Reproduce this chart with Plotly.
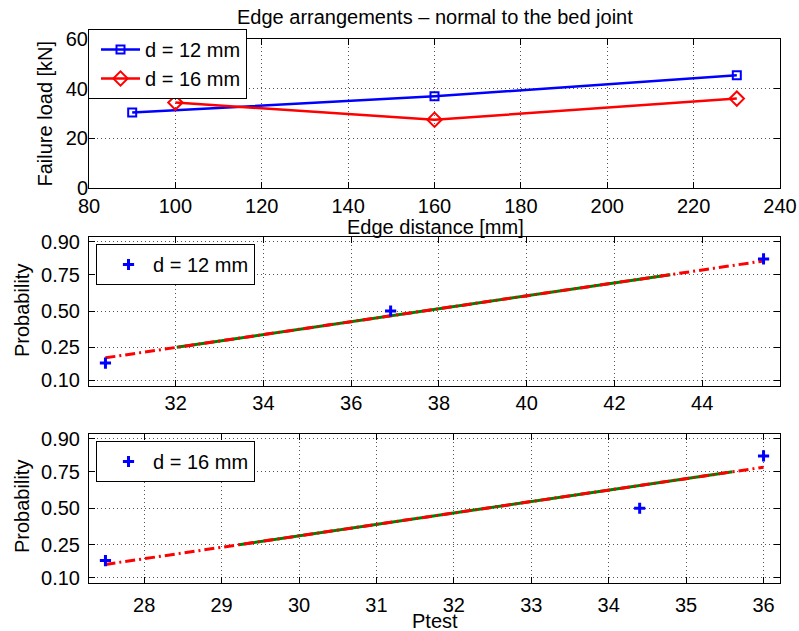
import plotly.graph_objects as go
from statistics import NormalDist

# ---------------- data ----------------
edge_12 = [90, 160, 230]
load_12 = [30.4, 36.9, 45.4]
edge_16 = [100, 160, 230]
load_16 = [34.4, 27.5, 36.0]

top_x_ticks = [80, 100, 120, 140, 160, 180, 200, 220, 240]
top_y_ticks = [0, 20, 40, 60]
prob_ticks = [0.10, 0.25, 0.50, 0.75, 0.90]
prob_labels = ["0.10", "0.25", "0.50", "0.75", "0.90"]
mid_x_ticks = [32, 34, 36, 38, 40, 42, 44]
bot_x_ticks = [28, 29, 30, 31, 32, 33, 34, 35, 36]

series_names = ["d = 12 mm", "d = 16 mm"]

nd = NormalDist()


def normplot_parts(values):
    """Normal probability plot pieces, as MATLAB's normplot builds them."""
    xs = sorted(values)
    n = len(xs)
    p = [(i + 0.5) / n for i in range(n)]
    z = [nd.inv_cdf(v) for v in p]

    def prct(q):
        if q <= p[0]:
            return xs[0]
        if q >= p[-1]:
            return xs[-1]
        for i in range(n - 1):
            if p[i] <= q <= p[i + 1]:
                t = (q - p[i]) / (p[i + 1] - p[i])
                return xs[i] + t * (xs[i + 1] - xs[i])

    q1, q3 = prct(0.25), prct(0.75)
    z1, z3 = nd.inv_cdf(0.25), nd.inv_cdf(0.75)
    slope = (z3 - z1) / (q3 - q1)
    ext_x = [xs[0], xs[-1]]
    ext_z = [z1 + slope * (v - q1) for v in ext_x]
    rng = xs[-1] - xs[0]
    xlim = [xs[0] - 0.025 * rng, xs[-1] + 0.025 * rng]
    ylim = [nd.inv_cdf(0.25 / n), nd.inv_cdf((n - 0.25) / n)]
    return dict(x=xs, z=z, qx=[q1, q3], qz=[z1, z3], ex=ext_x, ez=ext_z,
                xlim=xlim, ylim=ylim)


W, H = 799, 631
FONT = "Liberation Sans, Arial, Helvetica, sans-serif"
FS = 20
BLUE, RED, GREEN = "#0000FF", "#FF0000", "#008000"


def px_x(v):
    return v / W


def px_y(v):
    return 1 - v / H


fig = go.Figure()

# ---------------- top panel ----------------
fig.add_trace(go.Scatter(x=edge_12, y=load_12, mode="lines+markers", name=series_names[0],
                         line=dict(color=BLUE, width=2.5),
                         marker=dict(symbol="square-open", size=8, color=BLUE, line=dict(width=2)),
                         xaxis="x", yaxis="y", legend="legend"))
fig.add_trace(go.Scatter(x=edge_16, y=load_16, mode="lines+markers", name=series_names[1],
                         line=dict(color=RED, width=2.5),
                         marker=dict(symbol="diamond-open", size=11, color=RED, line=dict(width=2)),
                         xaxis="x", yaxis="y", legend="legend"))

# ---------------- probability panels ----------------
panels = [(load_12, "x2", "y2", "legend2", series_names[0]),
          (load_16, "x3", "y3", "legend3", series_names[1])]
parts = []
for vals, xa, ya, lg, nm in panels:
    d = normplot_parts(vals)
    parts.append(d)
    fig.add_trace(go.Scatter(x=d["qx"], y=d["qz"], mode="lines", showlegend=False,
                             line=dict(color=GREEN, width=3), xaxis=xa, yaxis=ya))
    fig.add_trace(go.Scatter(x=d["ex"], y=d["ez"], mode="lines", showlegend=False,
                             line=dict(color=RED, width=3, dash="10px,4px,2px,4px"),
                             xaxis=xa, yaxis=ya))
    fig.add_trace(go.Scatter(x=d["x"], y=d["z"], mode="markers", name=nm,
                             marker=dict(symbol="cross-thin-open", size=8, color=BLUE,
                                         line=dict(width=3, color=BLUE)),
                             xaxis=xa, yaxis=ya, legend=lg))

dom_x = [px_x(89), px_x(780)]
common = dict(showline=True, linecolor="black", linewidth=1, mirror="ticks",
              ticks="inside", ticklen=6, tickcolor="black", tickwidth=1,
              showgrid=True, gridcolor="#555555", gridwidth=1, griddash="1px,3px",
              zeroline=False, automargin=False,
              tickfont=dict(family=FONT, size=FS, color="black"))

prob_z = [nd.inv_cdf(p) for p in prob_ticks]

legend_common = dict(xanchor="left", yanchor="top", bgcolor="white", bordercolor="black",
                     borderwidth=1, font=dict(family=FONT, size=FS),
                     indentation=7, itemwidth=39, tracegroupgap=0)

fig.update_layout(
    width=W, height=H, margin=dict(l=0, r=0, t=0, b=0, autoexpand=False),
    paper_bgcolor="white", plot_bgcolor="white",
    font=dict(family=FONT, size=FS, color="black"),
    xaxis=dict(domain=dom_x, anchor="y", range=[80, 240], tickvals=top_x_ticks,
               ticklabelstandoff=0, **common),
    yaxis=dict(domain=[px_y(188), px_y(39)], anchor="x", range=[0, 60], tickvals=top_y_ticks,
               ticklabelstandoff=-4, **common),
    xaxis2=dict(domain=dom_x, anchor="y2", range=parts[0]["xlim"], tickvals=mid_x_ticks,
                ticklabelstandoff=-1, **common),
    yaxis2=dict(domain=[px_y(385.5), px_y(236.5)], anchor="x2", range=parts[0]["ylim"],
                tickvals=prob_z, ticktext=prob_labels, ticklabelstandoff=4, **common),
    xaxis3=dict(domain=dom_x, anchor="y3", range=parts[1]["xlim"], tickvals=bot_x_ticks,
                ticklabelstandoff=4, **common),
    yaxis3=dict(domain=[px_y(583), px_y(433.5)], anchor="x3", range=parts[1]["ylim"],
                tickvals=prob_z, ticktext=prob_labels, ticklabelstandoff=4, **common),
    legend=dict(x=px_x(88), y=px_y(29), **legend_common),
    legend2=dict(x=px_x(96), y=px_y(244), **legend_common),
    legend3=dict(x=px_x(96), y=px_y(441), **legend_common),
    showlegend=True,
)

ann = [
    ("Edge arrangements \u2013 normal to the bed joint", 435, 17, 0),
    ("Edge distance [mm]", 435, 227, 0),
    ("Failure load [kN]", 44, 113.5, -90),
    ("Probability", 22, 311, -90),
    ("Probability", 22, 507, -90),
    ("Ptest", 435, 621, 0),
]
for text, ax_, ay_, rot in ann:
    fig.add_annotation(text=text, x=px_x(ax_), y=px_y(ay_), xref="paper", yref="paper",
                       xanchor="center", yanchor="middle", showarrow=False, textangle=rot,
                       font=dict(family=FONT, size=FS, color="black"))

# remove the browser's default 8px page margin so the figure fills the window
fig.write_html("out.html", config={"displayModeBar": False},
               post_script="document.body.style.margin = '0px';")
